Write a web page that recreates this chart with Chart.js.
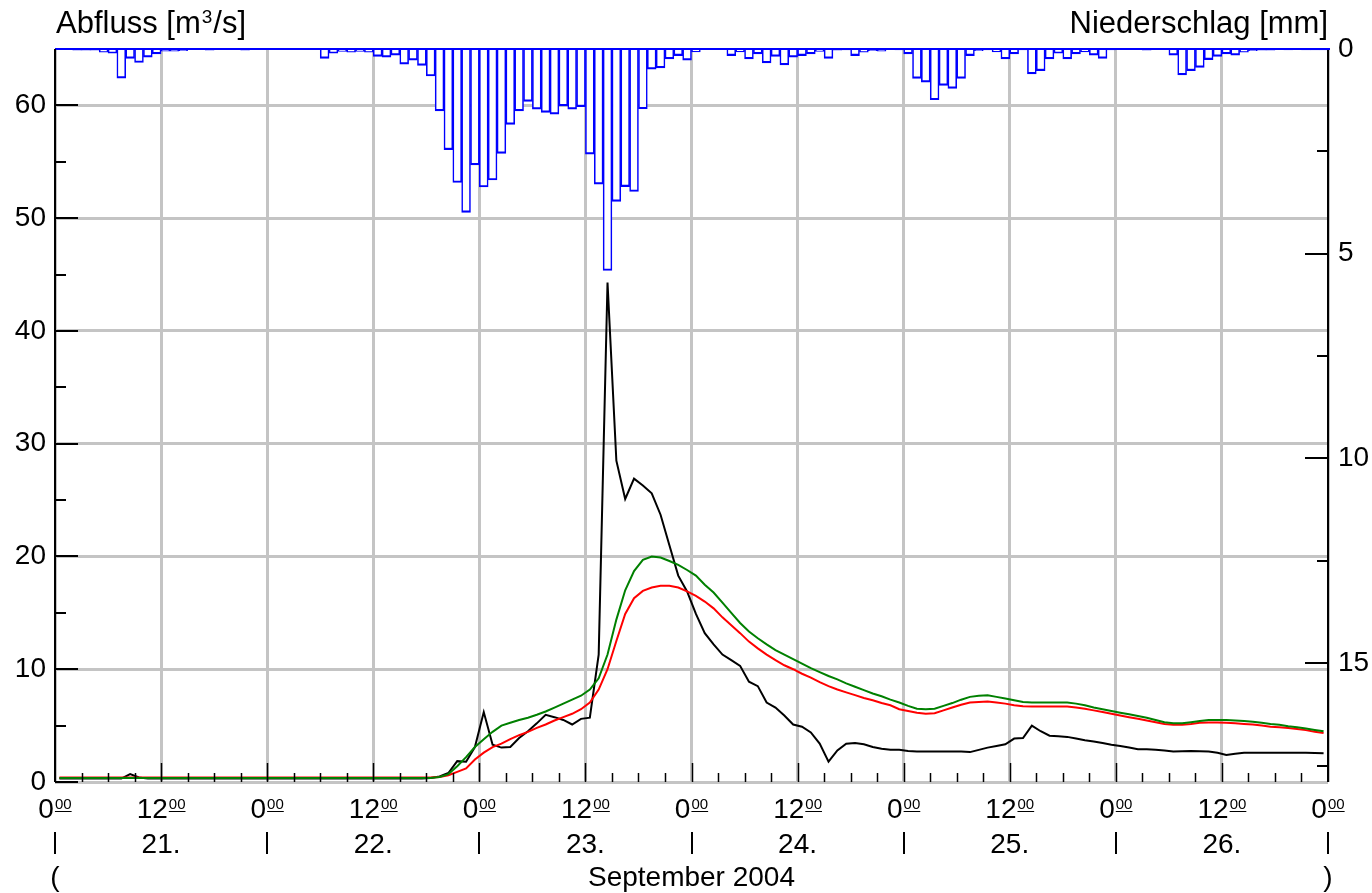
<!DOCTYPE html>
<html>
<head>
<meta charset="utf-8">
<title>Abfluss / Niederschlag September 2004</title>
<script src="https://cdn.jsdelivr.net/npm/chart.js@4.4.1/dist/chart.umd.min.js"></script>
<style>
  html, body { margin: 0; padding: 0; background: #fff; }
  #box { width: 1372px; height: 893px; }
</style>
</head>
<body>
<div id="box"><canvas id="abflusschart" width="1372" height="893"></canvas></div>
<script>
"use strict";

/*----------------------------------------*/
/*  1.  data (hourly, 21.-26. September 2004)
/*----------------------------------------*/
// Niederschlag [mm] per hour interval
var niederschlag = [
  0, 0, 0.03, 0.03, 0.03, 0.08, 0.1, 0.71, 0.23, 0.33, 0.2, 0.12,
  0.05, 0.05, 0.04, 0, 0, 0.03, 0, 0, 0, 0.03, 0, 0,
  0, 0, 0, 0, 0, 0, 0.23, 0.1, 0.06, 0.08, 0.06, 0.08,
  0.18, 0.2, 0.15, 0.37, 0.27, 0.4, 0.66, 1.51, 2.46, 3.26, 3.99, 2.83,
  3.37, 3.2, 2.55, 1.84, 1.51, 1.28, 1.47, 1.55, 1.59, 1.39, 1.47, 1.41,
  2.57, 3.3, 5.41, 3.72, 3.36, 3.48, 1.46, 0.49, 0.46, 0.24, 0.16, 0.27,
  0.07, 0, 0, 0, 0.16, 0.07, 0.24, 0.12, 0.34, 0.18, 0.39, 0.2,
  0.16, 0.12, 0.06, 0.23, 0.03, 0.02, 0.16, 0.08, 0.04, 0.05, 0, 0.02,
  0.12, 0.72, 0.81, 1.24, 0.89, 0.96, 0.72, 0.16, 0.04, 0.02, 0.07, 0.24,
  0.12, 0.02, 0.61, 0.53, 0.24, 0.1, 0.24, 0.12, 0.07, 0.15, 0.23, 0.02,
  0, 0, 0, 0.03, 0, 0, 0.15, 0.63, 0.53, 0.45, 0.26, 0.18,
  0.12, 0.15, 0.08, 0.04, 0.03, 0.03, 0, 0.02, 0, 0.02, 0.02, 0.02
];

// Abfluss gemessen [m3/s] (black)
var abflussGemessen = [
  0.3, 0.3, 0.3, 0.3, 0.3, 0.3, 0.3, 0.3, 0.7, 0.4, 0.3, 0.3,
  0.3, 0.3, 0.3, 0.3, 0.3, 0.3, 0.3, 0.3, 0.3, 0.3, 0.3, 0.3,
  0.3, 0.3, 0.3, 0.3, 0.3, 0.3, 0.3, 0.3, 0.3, 0.3, 0.3, 0.3,
  0.3, 0.3, 0.3, 0.3, 0.3, 0.3, 0.35, 0.5, 0.8, 1.85, 1.8, 3.1,
  6.2, 3.3, 3.05, 3.1, 3.9, 4.5, 5.2, 5.95, 5.75, 5.5, 5.1, 5.6,
  5.7, 11.3, 44.3, 28.5, 25.1, 26.9, 26.3, 25.6, 23.7, 21.0, 18.3, 16.9,
  14.9, 13.2, 12.2, 11.3, 10.8, 10.3, 8.9, 8.5, 7.05, 6.6, 5.9, 5.1,
  4.9, 4.4, 3.4, 1.8, 2.8, 3.4, 3.45, 3.35, 3.1, 2.95, 2.85, 2.85,
  2.75, 2.7, 2.7, 2.7, 2.7, 2.7, 2.7, 2.65, 2.85, 3.05, 3.2, 3.35,
  3.85, 3.9, 5.0, 4.5, 4.1, 4.05, 4.0, 3.85, 3.7, 3.6, 3.45, 3.3,
  3.2, 3.05, 2.9, 2.9, 2.85, 2.8, 2.7, 2.72, 2.75, 2.72, 2.7, 2.6,
  2.4, 2.5, 2.6, 2.6, 2.6, 2.6, 2.6, 2.6, 2.6, 2.6, 2.58, 2.55
];

// Abfluss simuliert, Variante A (green)
var abflussSimGruen = [
  0.35, 0.35, 0.35, 0.35, 0.35, 0.35, 0.35, 0.35, 0.35, 0.35, 0.35, 0.35,
  0.35, 0.35, 0.35, 0.35, 0.35, 0.35, 0.35, 0.35, 0.35, 0.35, 0.35, 0.35,
  0.35, 0.35, 0.35, 0.35, 0.35, 0.35, 0.35, 0.35, 0.35, 0.35, 0.35, 0.35,
  0.35, 0.35, 0.35, 0.35, 0.35, 0.35, 0.35, 0.45, 0.7, 1.4, 2.2, 3.1,
  3.8, 4.45, 5.0, 5.25, 5.5, 5.7, 5.96, 6.25, 6.6, 6.95, 7.3, 7.65,
  8.2, 9.2, 11.3, 14.4, 17.0, 18.7, 19.7, 20.0, 19.9, 19.6, 19.25, 18.8,
  18.3, 17.5, 16.8, 15.9, 15.0, 14.1, 13.35, 12.75, 12.2, 11.7, 11.3, 10.9,
  10.5, 10.1, 9.75, 9.4, 9.1, 8.75, 8.45, 8.15, 7.85, 7.6, 7.3, 7.05,
  6.75, 6.5, 6.45, 6.5, 6.75, 7.0, 7.3, 7.55, 7.65, 7.7, 7.55, 7.4,
  7.25, 7.1, 7.05, 7.05, 7.05, 7.05, 7.05, 6.95, 6.8, 6.6, 6.45, 6.3,
  6.15, 6.0, 5.85, 5.7, 5.5, 5.3, 5.2, 5.2, 5.3, 5.4, 5.5, 5.5,
  5.5, 5.45, 5.4, 5.35, 5.25, 5.15, 5.07, 4.95, 4.85, 4.75, 4.62, 4.5
];

// Abfluss simuliert, Variante B (red)
var abflussSimRot = [
  0.4, 0.4, 0.4, 0.4, 0.4, 0.4, 0.4, 0.4, 0.4, 0.4, 0.4, 0.4,
  0.4, 0.4, 0.4, 0.4, 0.4, 0.4, 0.4, 0.4, 0.4, 0.4, 0.4, 0.4,
  0.4, 0.4, 0.4, 0.4, 0.4, 0.4, 0.4, 0.4, 0.4, 0.4, 0.4, 0.4,
  0.4, 0.4, 0.4, 0.4, 0.4, 0.4, 0.4, 0.45, 0.6, 0.9, 1.2, 2.0,
  2.6, 3.1, 3.4, 3.8, 4.15, 4.45, 4.8, 5.1, 5.45, 5.75, 6.05, 6.45,
  7.05, 8.2, 10.0, 12.5, 14.9, 16.3, 16.95, 17.25, 17.4, 17.4, 17.25, 16.9,
  16.5, 16.0, 15.4, 14.6, 13.9, 13.2, 12.45, 11.85, 11.3, 10.8, 10.35, 10.0,
  9.6, 9.25, 8.85, 8.5, 8.2, 7.95, 7.7, 7.45, 7.25, 7.0, 6.8, 6.45,
  6.3, 6.15, 6.05, 6.1, 6.35, 6.6, 6.85, 7.05, 7.1, 7.14, 7.05, 6.95,
  6.8, 6.72, 6.7, 6.7, 6.7, 6.7, 6.7, 6.6, 6.5, 6.35, 6.2, 6.05,
  5.9, 5.75, 5.6, 5.45, 5.3, 5.15, 5.07, 5.07, 5.15, 5.25, 5.27, 5.27,
  5.25, 5.2, 5.15, 5.1, 5.0, 4.9, 4.85, 4.78, 4.7, 4.6, 4.45, 4.35
];

var stundenTicks = [0, 12, 24, 36, 48, 60, 72, 84, 96, 108, 120, 132, 144];
var stundenText = ["0", "12", "0", "12", "0", "12", "0", "12", "0", "12", "0", "12", "0"];
var tagText = ["21.", "22.", "23.", "24.", "25.", "26."];
var abflussTicks = [0, 10, 20, 30, 40, 50, 60];
var niederschlagTicks = [0, 5, 10, 15];
var monatText = "September 2004";

/*----------------------------------------*/
/*  2.  helpers
/*----------------------------------------*/
function stundenPunkte(werte) {
  // hourly means sit in the middle of their hour
  return werte.map(function (v, i) { return { x: i + 0.5, y: v }; });
}

function fixTicks(liste) {
  return function (scale) {
    scale.ticks = liste.map(function (v) { return { value: v }; });
  };
}

var FONT = "'Liberation Sans', Arial, sans-serif";

/*----------------------------------------*/
/*  3.  axis decoration plugin
/*----------------------------------------*/
var achsenDeko = {
  id: 'achsenDeko',
  afterDraw: function (chart) {
    var c = chart.ctx;
    var a = chart.chartArea;
    var sx = chart.scales.x, sy = chart.scales.y, sy2 = chart.scales.y2;
    var i, v, px, py, len;

    c.save();

    // top line (rain baseline)
    c.strokeStyle = '#0000ff';
    c.lineWidth = 2;
    c.beginPath();
    c.moveTo(a.left, a.top);
    c.lineTo(a.right + 2, a.top);
    c.stroke();

    // left + right axis lines
    c.strokeStyle = '#000';
    c.lineWidth = 2;
    c.beginPath();
    c.moveTo(a.left, a.top);
    c.lineTo(a.left, a.bottom);
    c.moveTo(a.right, a.top + 1);
    c.lineTo(a.right, a.bottom);
    c.stroke();

    // left ticks: 10 major, 5 minor
    c.beginPath();
    for (v = 0; v <= 60; v += 5) {
      py = Math.round(sy.getPixelForValue(v));
      len = (v % 10 === 0) ? 23 : 11;
      c.moveTo(a.left, py);
      c.lineTo(a.left + len, py);
    }
    // right ticks: 5 major, 2.5 minor
    for (v = 2.5; v < sy2.max; v += 2.5) {
      py = Math.round(sy2.getPixelForValue(v));
      len = (v % 5 === 0) ? 23 : 11;
      c.moveTo(a.right, py);
      c.lineTo(a.right - len, py);
    }
    c.stroke();

    // bottom ticks every 3 h
    c.lineWidth = 1.5;
    c.beginPath();
    for (v = 3; v < 144; v += 3) {
      px = Math.round(sx.getPixelForValue(v)) + 0.5;
      len = (v % 12 === 0) ? 19 : 9;
      c.moveTo(px, a.bottom);
      c.lineTo(px, a.bottom - len);
    }
    c.stroke();

    // hour labels 0^00 / 12^00
    c.fillStyle = '#000';
    c.strokeStyle = '#000';
    c.textBaseline = 'alphabetic';
    c.textAlign = 'left';
    for (i = 0; i < stundenTicks.length; i++) {
      px = sx.getPixelForValue(stundenTicks[i]);
      c.font = '28px ' + FONT;
      var w1 = c.measureText(stundenText[i]).width;
      c.font = '15px ' + FONT;
      var w2 = c.measureText('00').width;
      var x0 = px - (w1 + w2 + 1) / 2;
      c.font = '28px ' + FONT;
      c.fillText(stundenText[i], x0, 818);
      c.font = '15px ' + FONT;
      c.fillText('00', x0 + w1 + 1, 809);
      c.lineWidth = 1;
      c.beginPath();
      c.moveTo(x0 + w1 + 1, 811.5);
      c.lineTo(x0 + w1 + 1 + w2, 811.5);
      c.stroke();
    }

    // day row
    c.font = '28px ' + FONT;
    c.textAlign = 'center';
    c.lineWidth = 2;
    c.beginPath();
    for (i = 0; i <= tagText.length; i++) {
      px = Math.round(sx.getPixelForValue(i * 24));
      c.moveTo(px, 832);
      c.lineTo(px, 854);
    }
    c.stroke();
    for (i = 0; i < tagText.length; i++) {
      c.fillText(tagText[i], sx.getPixelForValue(i * 24 + 12), 853);
    }

    // month row
    c.fillText('(', a.left, 886);
    c.fillText(monatText, (a.left + a.right) / 2, 886);
    c.fillText(')', a.right, 886);

    // axis titles
    c.textAlign = 'left';
    c.font = '31px ' + FONT;
    var t1 = 'Abfluss [m';
    c.fillText(t1, 56, 33);
    var wt = c.measureText(t1).width;
    c.font = '19px ' + FONT;
    c.fillText('3', 56 + wt + 1, 23);
    var ws = c.measureText('3').width;
    c.font = '31px ' + FONT;
    c.fillText('/s]', 56 + wt + ws + 2, 33);
    c.textAlign = 'right';
    c.fillText('Niederschlag [mm]', a.right, 33);

    c.restore();
  }
};

/*----------------------------------------*/
/*  4.  chart
/*----------------------------------------*/
var ctx = document.getElementById("abflusschart");
var abflusschart = new Chart(ctx, {
  type: 'line',
  data: {
    datasets: [{
      type: 'bar',
      label: 'Niederschlag',
      data: stundenPunkte(niederschlag),
      yAxisID: 'y2',
      backgroundColor: '#ffffff',
      borderColor: '#0000ff',
      borderWidth: { left: 1.6, right: 1.6, bottom: 2.2, top: 0 },
      barPercentage: 1,
      categoryPercentage: 1,
      order: 4
    }, {
      label: 'gemessen',
      data: stundenPunkte(abflussGemessen),
      yAxisID: 'y',
      borderColor: '#000000',
      borderWidth: 2,
      pointRadius: 0,
      tension: 0,
      fill: false,
      order: 3
    }, {
      label: 'simuliert B',
      data: stundenPunkte(abflussSimRot),
      yAxisID: 'y',
      borderColor: '#ff0000',
      borderWidth: 2,
      pointRadius: 0,
      tension: 0,
      fill: false,
      order: 2
    }, {
      label: 'simuliert A',
      data: stundenPunkte(abflussSimGruen),
      yAxisID: 'y',
      borderColor: '#008000',
      borderWidth: 2,
      pointRadius: 0,
      tension: 0,
      fill: false,
      order: 1
    }]
  },
  options: {
    responsive: false,
    devicePixelRatio: 1,
    animation: false,
    layout: { padding: { top: 49, left: 0, right: 0, bottom: 0 } },
    plugins: {
      legend: { display: false },
      tooltip: { enabled: false },
      title: { display: false }
    },
    scales: {
      x: {
        type: 'linear',
        position: 'bottom',
        min: 0,
        max: 144,
        offset: false,
        afterBuildTicks: fixTicks(stundenTicks),
        afterFit: function (s) { s.height = 111; },
        ticks: { display: false },
        grid: { color: '#c4c4c4', lineWidth: 3, drawTicks: false, offset: false },
        border: { display: false }
      },
      y: {
        position: 'left',
        min: 0,
        max: 65,
        afterBuildTicks: fixTicks(abflussTicks),
        afterFit: function (s) { s.width = 55; },
        ticks: { color: '#000', padding: 9, font: { family: FONT, size: 28 } },
        grid: { color: '#c4c4c4', lineWidth: 3, drawTicks: false },
        border: { display: false }
      },
      y2: {
        position: 'right',
        min: 0,
        max: 17.9,
        reverse: true,
        afterBuildTicks: fixTicks(niederschlagTicks),
        afterFit: function (s) { s.width = 44; },
        ticks: { color: '#000', padding: 10, font: { family: FONT, size: 28 } },
        grid: { drawOnChartArea: false, drawTicks: false },
        border: { display: false }
      }
    }
  },
  plugins: [achsenDeko]
});
</script>
</body>
</html>
